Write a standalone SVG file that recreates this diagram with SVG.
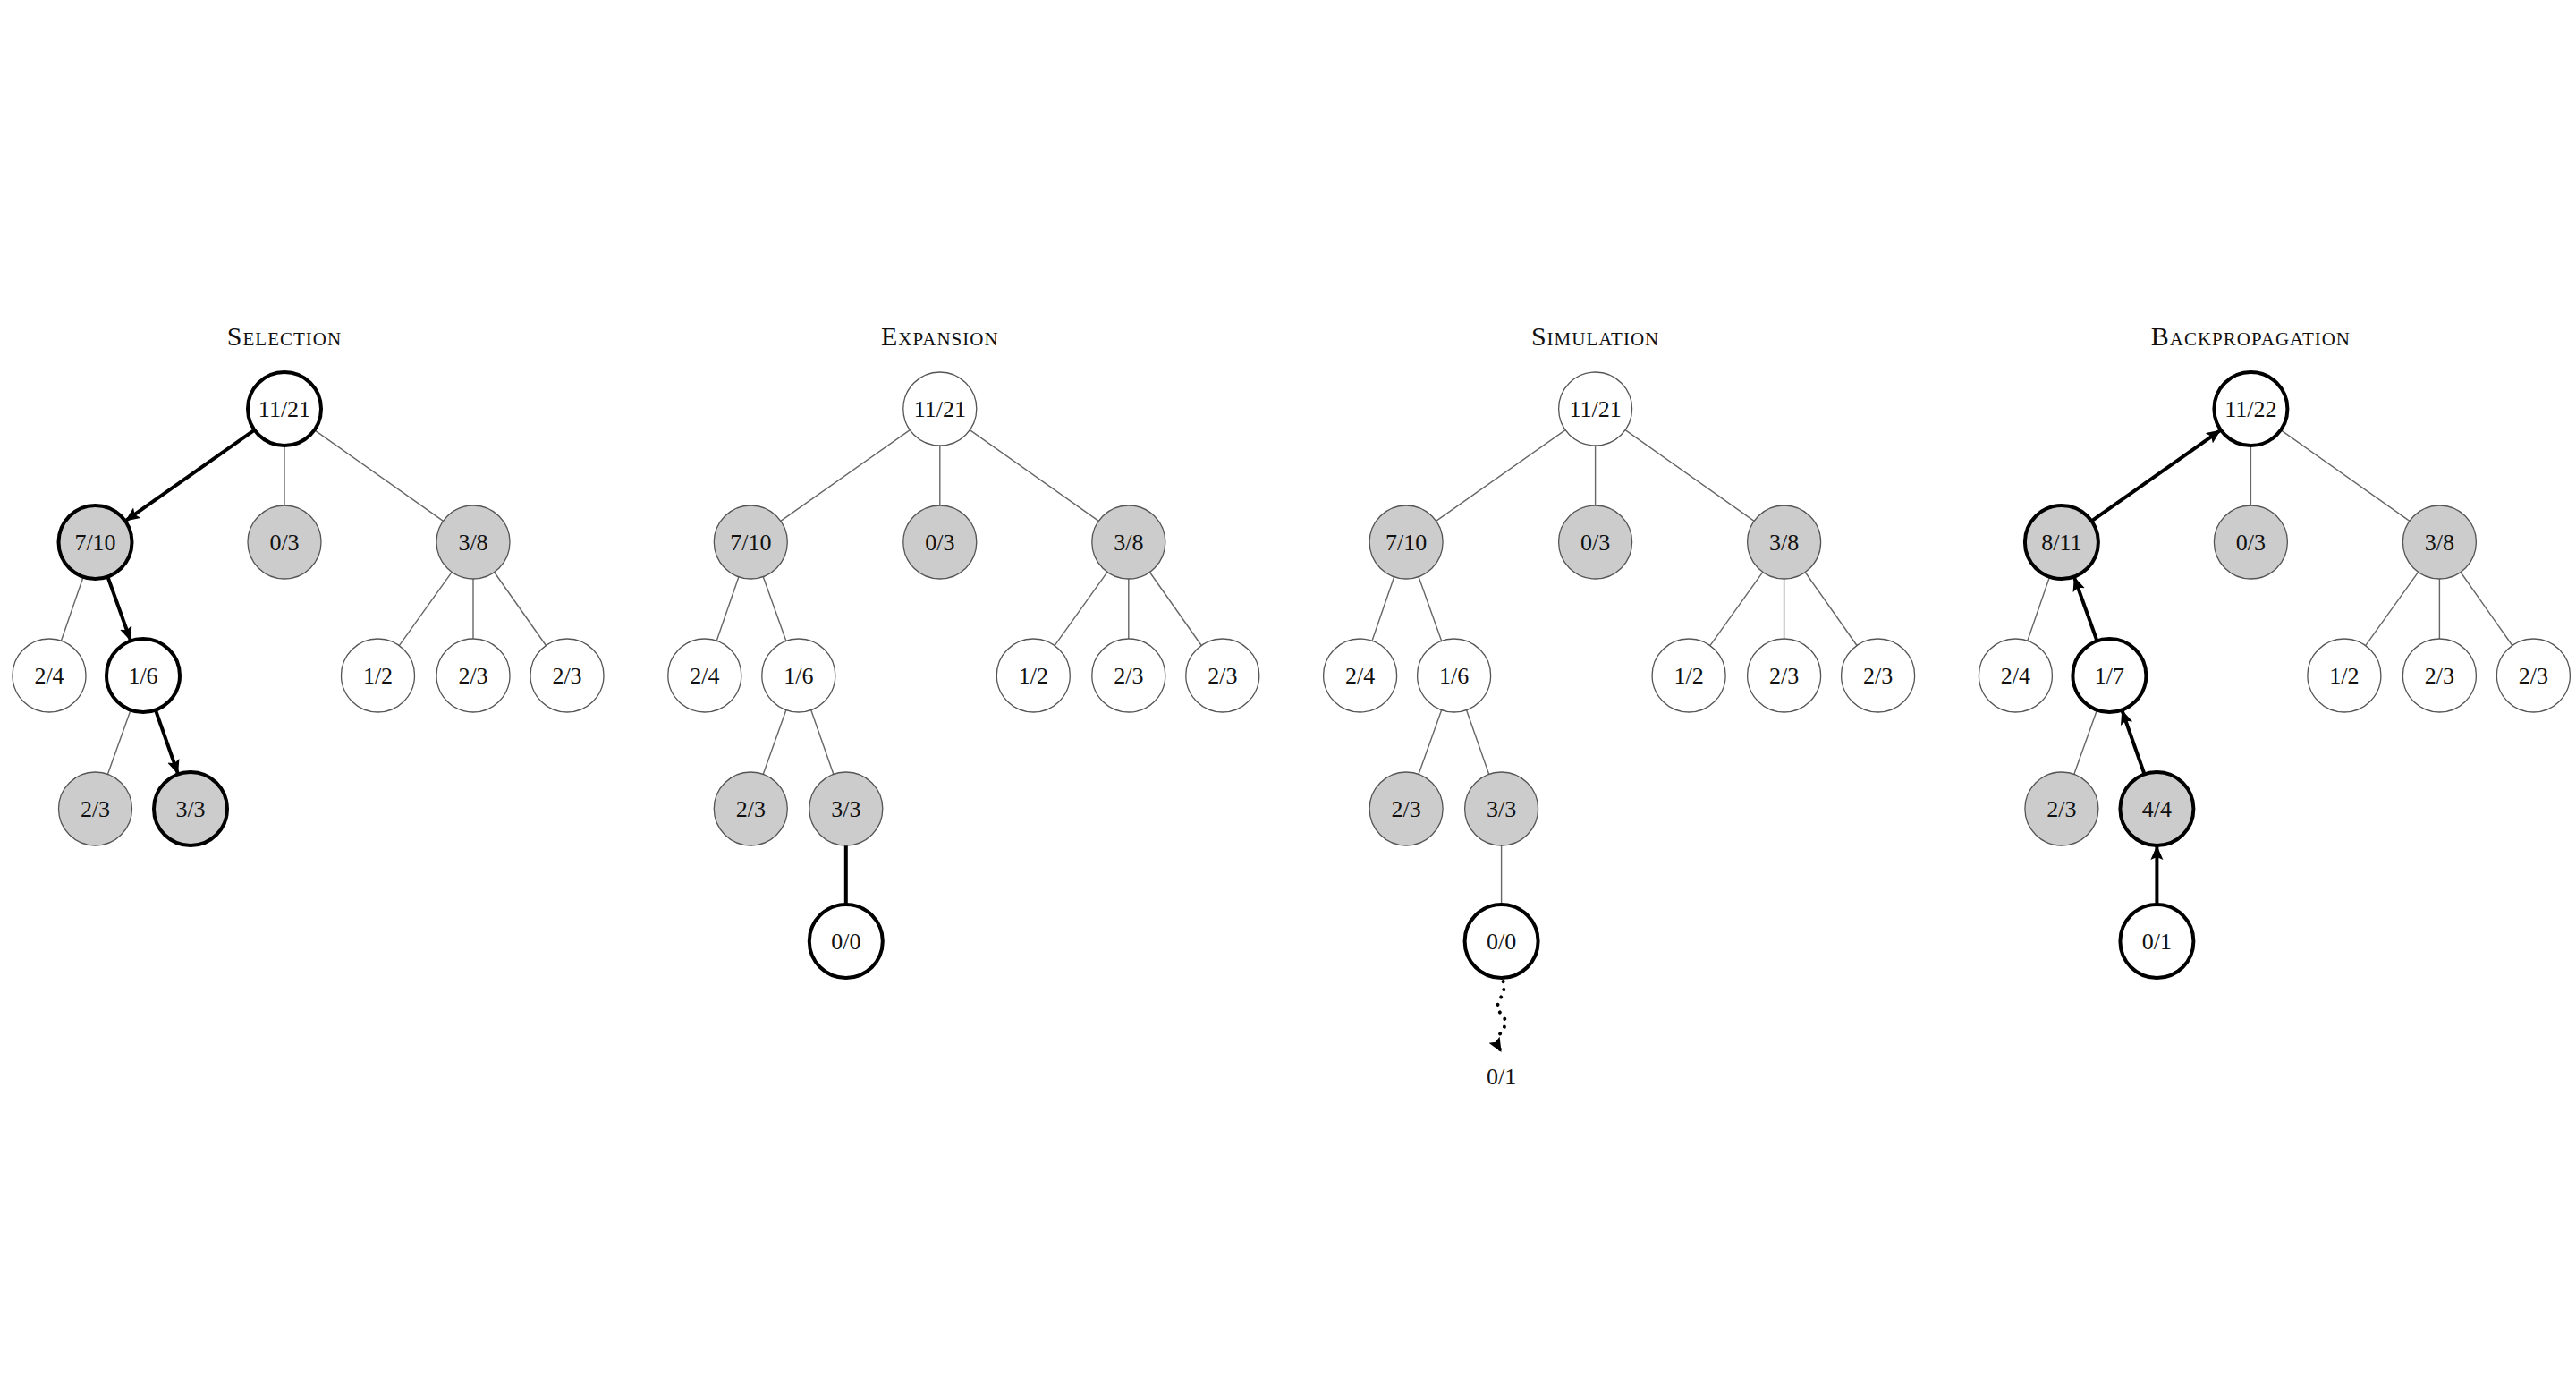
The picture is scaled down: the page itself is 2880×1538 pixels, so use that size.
<svg xmlns="http://www.w3.org/2000/svg" width="2880" height="1538" viewBox="0 0 2880 1538">
<style>
text{font-family:"Liberation Serif","DejaVu Serif",serif;font-size:26px;fill:#111;text-anchor:middle;dominant-baseline:central}
.title{font-size:30px;font-variant:small-caps;letter-spacing:1px}
.n{fill:#fff;stroke:#555;stroke-width:1.3}
.g{fill:#cccccc}
.b{stroke:#000;stroke-width:4}
.e{stroke:#666;stroke-width:1.4;fill:none}
.t{stroke:#000;stroke-width:4;fill:none}
.a{stroke:#000;stroke-width:4;fill:none;marker-end:url(#ah)}
.d{stroke:#000;stroke-width:4;fill:none;stroke-dasharray:0.1 9;stroke-linecap:round;marker-end:url(#ah2)}
</style>
<defs>
<marker id="ah" markerUnits="userSpaceOnUse" markerWidth="20" markerHeight="16" refX="16" refY="7" orient="auto"><path d="M0,0 L16,7 L0,14 L3,7 Z" fill="#000"/></marker>
<marker id="ah2" markerUnits="userSpaceOnUse" markerWidth="20" markerHeight="16" refX="16" refY="7" orient="auto"><path d="M0,0 L16,7 L0,14 L3,7 Z" fill="#000"/></marker>
</defs>
<rect width="2880" height="1538" fill="#fff"/>

<!-- Panel 1: Selection -->
<g id="p1">
<text class="title" x="318" y="375">Selection</text>
<g id="connectors1">
<line class="a" x1="284.5" y1="480.6" x2="140" y2="582.4"/>
<line class="e" x1="318" y1="498" x2="318" y2="565"/>
<line class="e" x1="351.5" y1="480.6" x2="495.5" y2="582.4"/>
<line class="e" x1="93.1" y1="644.8" x2="68.4" y2="716.2"/>
<line class="a" x1="120.4" y1="644.6" x2="146.1" y2="716.4"/>
<line class="e" x1="505.2" y1="639.4" x2="446.3" y2="721.6"/>
<line class="e" x1="529" y1="647" x2="529" y2="714"/>
<line class="e" x1="552.6" y1="639.5" x2="610.4" y2="721.5"/>
<line class="e" x1="146.1" y1="793.6" x2="120.4" y2="865.4"/>
<line class="a" x1="173.9" y1="793.6" x2="199.1" y2="865.4"/>
</g>
<g id="p1-r"><circle class="n b" cx="318" cy="457" r="41"/><text x="318" y="457">11/21</text></g>
<g id="p1-a"><circle class="n g b" cx="106.5" cy="606" r="41"/><text x="106.5" y="606">7/10</text></g>
<g id="p1-b"><circle class="n g" cx="318" cy="606" r="41"/><text x="318" y="606">0/3</text></g>
<g id="p1-c"><circle class="n g" cx="529" cy="606" r="41"/><text x="529" y="606">3/8</text></g>
<g id="p1-a1"><circle class="n" cx="55" cy="755" r="41"/><text x="55" y="755">2/4</text></g>
<g id="p1-a2"><circle class="n b" cx="160" cy="755" r="41"/><text x="160" y="755">1/6</text></g>
<g id="p1-c1"><circle class="n" cx="422.5" cy="755" r="41"/><text x="422.5" y="755">1/2</text></g>
<g id="p1-c2"><circle class="n" cx="529" cy="755" r="41"/><text x="529" y="755">2/3</text></g>
<g id="p1-c3"><circle class="n" cx="634" cy="755" r="41"/><text x="634" y="755">2/3</text></g>
<g id="p1-a2a"><circle class="n g" cx="106.5" cy="904" r="41"/><text x="106.5" y="904">2/3</text></g>
<g id="p1-a2b"><circle class="n g b" cx="213" cy="904" r="41"/><text x="213" y="904">3/3</text></g>
</g>

<!-- Panel 2: Expansion -->
<g id="p2" transform="translate(732.8,0)">
<text class="title" x="318" y="375">Expansion</text>
<g id="connectors2">
<line class="e" x1="284.5" y1="480.6" x2="140" y2="582.4"/>
<line class="e" x1="318" y1="498" x2="318" y2="565"/>
<line class="e" x1="351.5" y1="480.6" x2="495.5" y2="582.4"/>
<line class="e" x1="93.1" y1="644.8" x2="68.4" y2="716.2"/>
<line class="e" x1="120.4" y1="644.6" x2="146.1" y2="716.4"/>
<line class="e" x1="505.2" y1="639.4" x2="446.3" y2="721.6"/>
<line class="e" x1="529" y1="647" x2="529" y2="714"/>
<line class="e" x1="552.6" y1="639.5" x2="610.4" y2="721.5"/>
<line class="e" x1="146.1" y1="793.6" x2="120.4" y2="865.4"/>
<line class="e" x1="173.9" y1="793.6" x2="199.1" y2="865.4"/>
<line class="t" x1="213" y1="945" x2="213" y2="1011"/>
</g>
<g id="p2-r"><circle class="n" cx="318" cy="457" r="41"/><text x="318" y="457">11/21</text></g>
<g id="p2-a"><circle class="n g" cx="106.5" cy="606" r="41"/><text x="106.5" y="606">7/10</text></g>
<g id="p2-b"><circle class="n g" cx="318" cy="606" r="41"/><text x="318" y="606">0/3</text></g>
<g id="p2-c"><circle class="n g" cx="529" cy="606" r="41"/><text x="529" y="606">3/8</text></g>
<g id="p2-a1"><circle class="n" cx="55" cy="755" r="41"/><text x="55" y="755">2/4</text></g>
<g id="p2-a2"><circle class="n" cx="160" cy="755" r="41"/><text x="160" y="755">1/6</text></g>
<g id="p2-c1"><circle class="n" cx="422.5" cy="755" r="41"/><text x="422.5" y="755">1/2</text></g>
<g id="p2-c2"><circle class="n" cx="529" cy="755" r="41"/><text x="529" y="755">2/3</text></g>
<g id="p2-c3"><circle class="n" cx="634" cy="755" r="41"/><text x="634" y="755">2/3</text></g>
<g id="p2-a2a"><circle class="n g" cx="106.5" cy="904" r="41"/><text x="106.5" y="904">2/3</text></g>
<g id="p2-a2b"><circle class="n g" cx="213" cy="904" r="41"/><text x="213" y="904">3/3</text></g>
<g id="p2-e"><circle class="n b" cx="213" cy="1052" r="41"/><text x="213" y="1052">0/0</text></g>
</g>

<!-- Panel 3: Simulation -->
<g id="p3" transform="translate(1465.6,0)">
<text class="title" x="318" y="375">Simulation</text>
<g id="connectors3">
<line class="e" x1="284.5" y1="480.6" x2="140" y2="582.4"/>
<line class="e" x1="318" y1="498" x2="318" y2="565"/>
<line class="e" x1="351.5" y1="480.6" x2="495.5" y2="582.4"/>
<line class="e" x1="93.1" y1="644.8" x2="68.4" y2="716.2"/>
<line class="e" x1="120.4" y1="644.6" x2="146.1" y2="716.4"/>
<line class="e" x1="505.2" y1="639.4" x2="446.3" y2="721.6"/>
<line class="e" x1="529" y1="647" x2="529" y2="714"/>
<line class="e" x1="552.6" y1="639.5" x2="610.4" y2="721.5"/>
<line class="e" x1="146.1" y1="793.6" x2="120.4" y2="865.4"/>
<line class="e" x1="173.9" y1="793.6" x2="199.1" y2="865.4"/>
<line class="e" x1="213" y1="945" x2="213" y2="1011"/>
<path class="d" d="M215,1097 Q218,1107 211,1117 Q205,1127 216,1137 Q220,1146 211,1156 Q206,1164 213,1176"/>
</g>
<g id="p3-r"><circle class="n" cx="318" cy="457" r="41"/><text x="318" y="457">11/21</text></g>
<g id="p3-a"><circle class="n g" cx="106.5" cy="606" r="41"/><text x="106.5" y="606">7/10</text></g>
<g id="p3-b"><circle class="n g" cx="318" cy="606" r="41"/><text x="318" y="606">0/3</text></g>
<g id="p3-c"><circle class="n g" cx="529" cy="606" r="41"/><text x="529" y="606">3/8</text></g>
<g id="p3-a1"><circle class="n" cx="55" cy="755" r="41"/><text x="55" y="755">2/4</text></g>
<g id="p3-a2"><circle class="n" cx="160" cy="755" r="41"/><text x="160" y="755">1/6</text></g>
<g id="p3-c1"><circle class="n" cx="422.5" cy="755" r="41"/><text x="422.5" y="755">1/2</text></g>
<g id="p3-c2"><circle class="n" cx="529" cy="755" r="41"/><text x="529" y="755">2/3</text></g>
<g id="p3-c3"><circle class="n" cx="634" cy="755" r="41"/><text x="634" y="755">2/3</text></g>
<g id="p3-a2a"><circle class="n g" cx="106.5" cy="904" r="41"/><text x="106.5" y="904">2/3</text></g>
<g id="p3-a2b"><circle class="n g" cx="213" cy="904" r="41"/><text x="213" y="904">3/3</text></g>
<g id="p3-e"><circle class="n b" cx="213" cy="1052" r="41"/><text x="213" y="1052">0/0</text></g>
<g id="p3-out"><text x="213" y="1203">0/1</text></g>
</g>

<!-- Panel 4: Backpropagation -->
<g id="p4" transform="translate(2198.4,0)">
<text class="title" x="318" y="375">Backpropagation</text>
<g id="connectors4">
<line class="a" x1="140" y1="582.4" x2="284.5" y2="480.6"/>
<line class="e" x1="318" y1="498" x2="318" y2="565"/>
<line class="e" x1="351.5" y1="480.6" x2="495.5" y2="582.4"/>
<line class="e" x1="93.1" y1="644.8" x2="68.4" y2="716.2"/>
<line class="a" x1="146.1" y1="716.4" x2="120.4" y2="644.6"/>
<line class="e" x1="505.2" y1="639.4" x2="446.3" y2="721.6"/>
<line class="e" x1="529" y1="647" x2="529" y2="714"/>
<line class="e" x1="552.6" y1="639.5" x2="610.4" y2="721.5"/>
<line class="e" x1="146.1" y1="793.6" x2="120.4" y2="865.4"/>
<line class="a" x1="199.1" y1="865.4" x2="173.9" y2="793.6"/>
<line class="a" x1="213" y1="1011" x2="213" y2="945"/>
</g>
<g id="p4-r"><circle class="n b" cx="318" cy="457" r="41"/><text x="318" y="457">11/22</text></g>
<g id="p4-a"><circle class="n g b" cx="106.5" cy="606" r="41"/><text x="106.5" y="606">8/11</text></g>
<g id="p4-b"><circle class="n g" cx="318" cy="606" r="41"/><text x="318" y="606">0/3</text></g>
<g id="p4-c"><circle class="n g" cx="529" cy="606" r="41"/><text x="529" y="606">3/8</text></g>
<g id="p4-a1"><circle class="n" cx="55" cy="755" r="41"/><text x="55" y="755">2/4</text></g>
<g id="p4-a2"><circle class="n b" cx="160" cy="755" r="41"/><text x="160" y="755">1/7</text></g>
<g id="p4-c1"><circle class="n" cx="422.5" cy="755" r="41"/><text x="422.5" y="755">1/2</text></g>
<g id="p4-c2"><circle class="n" cx="529" cy="755" r="41"/><text x="529" y="755">2/3</text></g>
<g id="p4-c3"><circle class="n" cx="634" cy="755" r="41"/><text x="634" y="755">2/3</text></g>
<g id="p4-a2a"><circle class="n g" cx="106.5" cy="904" r="41"/><text x="106.5" y="904">2/3</text></g>
<g id="p4-a2b"><circle class="n g b" cx="213" cy="904" r="41"/><text x="213" y="904">4/4</text></g>
<g id="p4-e"><circle class="n b" cx="213" cy="1052" r="41"/><text x="213" y="1052">0/1</text></g>
</g>
</svg>
